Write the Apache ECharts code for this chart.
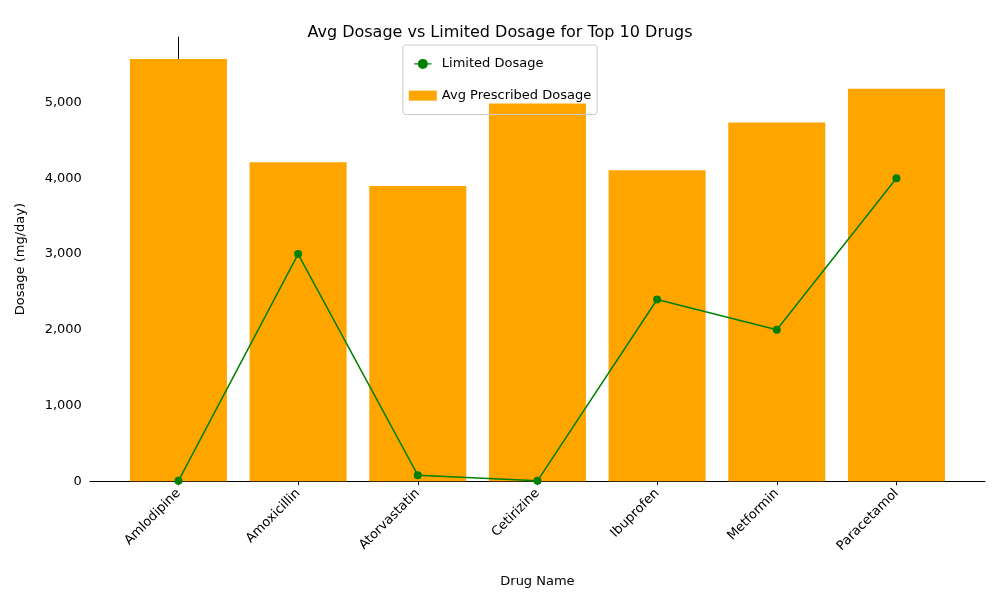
<!DOCTYPE html>
<html>
<head>
<script src="https://cdn.jsdelivr.net/npm/echarts@6/dist/echarts.min.js"></script>
<style>body{margin:0}#main{width:1000px;height:600px}</style>
</head>
<body>
<div id="main"></div>
<script>
var drugs = ['Amlodipine', 'Amoxicillin', 'Atorvastatin', 'Cetirizine', 'Ibuprofen', 'Metformin', 'Paracetamol'];
var avgDosage = [5577, 4213, 3898, 4987, 4108, 4738, 5184];
var limitedDosage = [5, 3000, 80, 5, 2400, 2000, 4000];
var yTicks = [0, 1000, 2000, 3000, 4000, 5000];

var idx = drugs.map(function (d, i) { return i; });
var font = 'DejaVu Sans';

var chart = echarts.init(document.getElementById('main'));
chart.setOption({
    animation: false,
    textStyle: { fontFamily: font },
    title: {
        text: 'Avg Dosage vs Limited Dosage for Top 10 Drugs',
        left: 'center', top: 12,
        textStyle: { fontSize: 16, fontWeight: 'normal', color: '#000', fontFamily: font }
    },
    legend: {
        top: 45, left: 'center', orient: 'vertical',
        itemGap: 6,
        borderColor: '#ccc', borderWidth: 1, borderRadius: 3, padding: [6, 6],
        textStyle: { fontSize: 13, color: '#000', fontFamily: font },
        data: [
            { name: 'Limited Dosage', icon: 'path://M0,5 L12,5 L12,6 L0,6 Z M6,2 A3.5,3.5 0 1 1 5.99,2 Z' },
            { name: 'Avg Prescribed Dosage', icon: 'rect' }
        ],
        itemWidth: 28, itemHeight: 10
    },
    grid: { left: 80, right: 15, top: 37, bottom: 116 },
    xAxis: {
        type: 'value', min: -0.74, max: 6.74,
        name: 'Drug Name', nameLocation: 'middle', nameGap: 88,
        nameTextStyle: { fontSize: 13, color: '#000' },
        splitLine: { show: false },
        axisLine: { show: true, lineStyle: { color: '#000' } },
        axisTick: { show: true, customValues: idx, length: 4, lineStyle: { color: '#000' } },
        axisLabel: {
            customValues: idx, rotate: 45, fontSize: 13, color: '#000', margin: 10,
            formatter: function (v) { return drugs[Math.round(v)]; }
        }
    },
    yAxis: {
        type: 'value', min: 0, max: 5866,
        name: 'Dosage (mg/day)', nameLocation: 'middle', nameGap: 55,
        nameTextStyle: { fontSize: 13, color: '#000' },
        splitLine: { show: false },
        axisLine: { show: true, lineStyle: { color: '#000' } },
        axisTick: { show: true, customValues: yTicks, length: 4, lineStyle: { color: '#000' } },
        axisLabel: { customValues: yTicks, fontSize: 13, color: '#000' }
    },
    series: [
        {
            name: 'Avg Prescribed Dosage', type: 'bar', barWidth: 97,
            itemStyle: { color: '#ffa500' },
            data: avgDosage.map(function (v, i) { return [i, v]; })
        },
        {
            name: 'Limited Dosage', type: 'line', symbol: 'circle', symbolSize: 8,
            itemStyle: { color: '#008000' }, lineStyle: { color: '#008000', width: 1.5 },
            data: limitedDosage.map(function (v, i) { return [i, v]; })
        }
    ]
});
</script>
</body>
</html>
